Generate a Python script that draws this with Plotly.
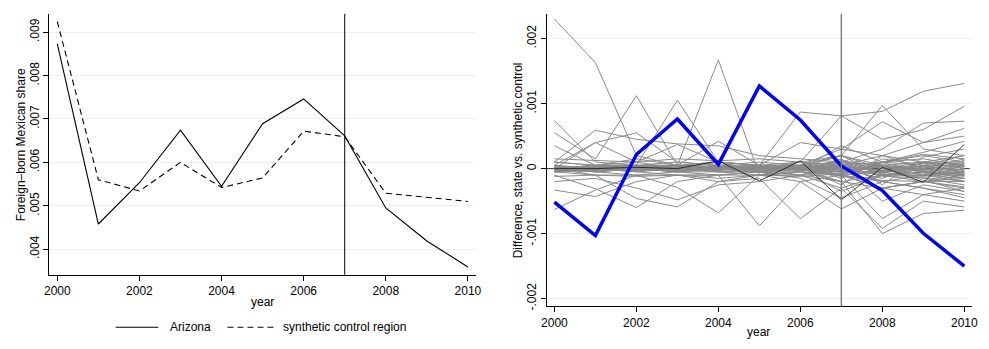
import plotly.graph_objects as go

# ---------------- data ----------------
years = list(range(2000, 2011))
treat_year = 2007

arizona = [0.00873, 0.00458, 0.00553, 0.00674, 0.00545, 0.00689, 0.00746, 0.00661, 0.00495, 0.00419, 0.00359]
synthetic = [0.00924, 0.00560, 0.00534, 0.00600, 0.00542, 0.00564, 0.00672, 0.00659, 0.00529, 0.00520, 0.00510]
legend_labels = ["Arizona", "synthetic control region"]

# gap (state minus synthetic control), in units of 0.0001
arizona_gap = [-5.15, -10.3, 2.17, 7.62, 0.65, 12.7, 7.47, 0.4, -3.38, -9.95, -15.0]

placebo_gaps = [
    [23.0, 16.3, 2.0, 0.5, 0.3, 0.5, 0.2, -1.0, -2.0, -1.0, -0.5],
    [7.4, 1.0, 0.5, 1.0, 0.5, 0.0, 1.0, 2.0, 0.5, 1.0, 0.0],
    [5.5, 1.5, 11.2, 0.5, 0.3, 0.5, 0.0, -1.0, 1.0, 2.0, 1.0],
    [3.5, 0.5, 0.5, 10.5, 1.0, -0.5, 0.5, 2.0, -1.0, 0.0, 1.5],
    [1.0, 0.5, 0.5, 0.5, 16.7, -1.0, 0.5, 0.0, 0.5, -1.0, -2.0],
    [1.0, 5.9, 4.5, 3.8, 3.5, 2.0, 1.5, 1.0, 0.5, 0.0, -1.0],
    [0.5, 4.0, 1.0, 0.0, 1.0, 0.5, 0.0, -2.0, -3.0, -2.0, -1.0],
    [0.0, 4.0, 5.5, 1.0, 0.5, 1.0, 0.5, 0.0, 1.0, 0.5, 0.5],
    [1.0, 0.5, 1.0, 3.7, 1.0, 0.5, 0.5, 1.0, 0.0, 1.0, 2.0],
    [0.0, 0.5, 1.5, 0.5, 4.2, 0.5, 0.5, 0.0, -1.0, -1.0, -1.5],
    [0.0, 0.5, 0.0, 0.5, 1.0, 0.5, 8.7, 8.1, 8.8, 11.9, 13.1],
    [0.0, 0.0, 0.5, 0.5, 0.0, 0.5, 1.0, 8.1, 4.5, 6.0, 9.6],
    [0.0, -0.5, 0.0, 0.5, 0.0, 0.0, 0.5, 2.0, 9.7, 3.0, 2.0],
    [0.5, 0.0, 0.0, 0.0, 0.5, 0.0, 0.5, 3.0, 7.2, 4.0, 5.0],
    [0.0, 0.5, 0.0, -0.5, 0.0, 0.5, 0.0, 1.0, 3.0, 7.0, 7.3],
    [0.0, 0.0, 0.5, 0.0, 0.0, -0.5, 0.0, 0.5, 2.0, 4.0, 6.2],
    [0.0, -0.5, 0.0, 0.0, 0.5, 0.0, 0.5, -1.0, 1.0, 2.5, 4.2],
    [0.5, 0.0, 0.0, 0.5, 1.0, 0.5, 4.0, 3.0, 2.0, 1.0, 0.5],
    [-6.3, -3.3, -1.0, -0.5, 0.0, -0.5, 0.0, -1.0, -0.5, 0.0, -1.0],
    [-3.3, -4.3, -2.0, -1.0, -1.0, -0.5, -1.0, 0.0, -1.0, -2.0, -3.0],
    [-1.0, -3.1, -6.0, -2.0, -1.0, -0.5, 0.0, 0.5, -2.0, -3.0, -4.0],
    [-0.5, -1.0, -4.6, -5.9, -2.0, -1.0, -0.5, -1.0, -3.0, -2.0, -2.0],
    [0.0, -1.0, -1.0, -2.9, -6.8, -1.0, -0.5, -2.0, -1.0, -1.0, 0.0],
    [0.0, -0.5, -1.0, -1.0, -1.0, -8.8, -2.0, -1.0, -3.0, -4.0, -5.0],
    [-0.5, 0.0, -0.5, -1.0, -2.0, -1.5, -7.7, -3.0, -1.0, -0.5, -2.0],
    [0.0, -0.5, 0.0, -0.5, -1.0, -1.0, -2.0, -6.2, -3.0, -2.0, -1.5],
    [0.0, 0.0, -0.5, 0.0, -0.5, -1.0, -1.0, -2.0, -10.0, -6.9, -6.4],
    [0.0, 0.0, 0.0, -0.5, -0.5, 0.0, -1.0, -3.0, -9.2, -5.0, -5.9],
    [0.0, 0.5, 0.0, 0.0, -0.5, -0.5, -0.5, -1.0, -7.7, -4.0, -3.0],
    [0.0, 0.0, 0.5, -0.5, 0.0, -0.5, -1.5, -4.5, -2.0, -3.0, -4.5],
    [-2.0, -1.5, -3.0, -4.8, -2.5, -2.0, -1.0, 0.5, -5.0, -2.5, -3.5],
    [-0.3, -0.2, 0.0, 0.2, 0.1, 0.3, 0.2, 0.5, 1.0, 1.5, 0.5],
    [0.2, 0.3, 0.2, 0.0, -0.2, 0.2, -0.3, -0.5, 0.5, -1.0, -1.0],
    [-0.5, -0.3, -0.2, -0.3, 0.0, -0.2, 0.0, 1.0, -0.5, 0.5, 2.0],
    [0.1, 0.0, -0.3, 0.3, 0.2, 0.0, 0.4, -1.5, 1.5, 0.5, -0.5],
    [-0.2, 0.4, 0.1, -0.1, 0.3, 0.1, -0.2, 0.0, -1.5, 1.0, 1.0],
    [0.4, -0.1, 0.3, 0.1, -0.3, 0.4, 0.1, 2.0, 0.0, -1.5, -2.5],
    [-0.4, 0.1, -0.1, -0.4, 0.2, -0.3, 0.3, -2.5, 2.0, 0.0, 0.8],
    [0.3, 0.2, -0.4, 0.2, -0.1, -0.1, -0.4, 1.5, -2.5, 1.8, 3.0],
    [0.0, -0.3, 0.4, -0.2, 0.4, 0.2, 0.5, -0.5, 0.3, -1.8, -3.5],
    [-0.1, 0.1, 0.2, 0.4, -0.4, -0.4, -0.1, 3.5, 1.0, 2.2, 1.5],
    [0.2, -0.4, -0.2, 0.3, 0.1, 0.3, -0.2, -3.5, -1.0, -0.5, -1.2],
    [1.5, 1.2, 1.0, 1.5, 1.2, 1.5, 1.0, 0.5, -0.3, 0.8, 0.2],
    [-1.2, -1.0, -1.2, -1.0, -1.5, -1.0, -1.2, -0.8, 0.5, -0.5, -0.8],
    [0.1, -0.1, 0.0, -0.1, 0.1, 0.0, -0.1, 0.3, -0.3, 0.4, -0.2],
    [-0.1, 0.1, -0.1, 0.1, 0.0, 0.1, 0.1, -0.3, 0.6, -0.6, 0.3],
    [0.0, 0.2, 0.1, 0.0, -0.1, -0.1, 0.2, 0.8, -0.8, 0.9, 0.7],
    [0.2, 0.0, -0.1, -0.2, 0.2, 0.2, 0.0, -0.9, 0.9, -0.4, -1.5],
    [-0.2, -0.1, 0.2, 0.1, -0.2, 0.0, -0.1, 0.2, -0.2, -0.9, 1.3],
    [0.0, 0.0, 0.0, 0.0, 0.0, 0.1, -0.1, 0.0, 0.2, 0.3, -0.3],
    [-0.3, 0.2, 0.3, -0.2, 0.3, -0.2, 0.3, 1.2, 0.4, -0.2, -0.7],
    [0.05, 0.0, -0.05, 0.05, 0.0, -0.05, 0.05, -0.6, -0.4, -0.7, -0.9],
    [-0.05, 0.05, 0.0, -0.05, 0.05, 0.0, 0.0, 0.6, -0.6, -1.2, -0.4],
    [0.0, -0.05, 0.05, 0.0, -0.05, 0.05, -0.05, -1.2, -1.8, -2.0, -2.8],
    [0.1, 0.05, 0.0, 0.1, 0.05, 0.1, 0.0, 0.4, -1.2, -1.4, -1.9],
    [-0.1, -0.05, -0.1, 0.0, -0.1, -0.05, -0.1, -0.2, -0.6, 0.2, -0.6],
    [0.0, 0.1, 0.05, -0.1, 0.0, 0.0, 0.1, 0.1, 0.3, -0.3, 0.4],
]
dark_placebo_gap = [0.0, 0.0, 0.2, 0.0, 1.2, -1.9, 1.2, -4.8, 0.2, -2.1, 3.7]

gap_unit = 1e-4

left_yticks = [0.004, 0.005, 0.006, 0.007, 0.008, 0.009]
left_yticktext = [".004", ".005", ".006", ".007", ".008", ".009"]
right_yticks = [-0.002, -0.001, 0.0, 0.001, 0.002]
right_yticktext = ["-.002", "-.001", "0", ".001", ".002"]
xticks = [2000, 2002, 2004, 2006, 2008, 2010]

# ---------------- figure ----------------
W, H = 989, 349
FONT = "Liberation Sans, Arial, Helvetica, sans-serif"
GRID = "#e8f0f1"
DASH = "6px,4px"


def px_x(p):
    return p / W


def px_y(p):
    return 1 - p / H


fig = go.Figure()

fig.add_trace(go.Scatter(x=years, y=arizona, mode="lines", name=legend_labels[0],
                         line=dict(color="black", width=1.1), showlegend=False,
                         xaxis="x", yaxis="y"))
fig.add_trace(go.Scatter(x=years, y=synthetic, mode="lines", name=legend_labels[1],
                         line=dict(color="black", width=1.1, dash=DASH), showlegend=False,
                         xaxis="x", yaxis="y"))

for row in placebo_gaps:
    fig.add_trace(go.Scatter(x=years, y=[v * gap_unit for v in row], mode="lines",
                             line=dict(color="#8a8a8a", width=1), showlegend=False,
                             hoverinfo="skip", xaxis="x2", yaxis="y2"))
fig.add_trace(go.Scatter(x=years, y=[v * gap_unit for v in dark_placebo_gap], mode="lines",
                         line=dict(color="#222222", width=0.9), showlegend=False,
                         hoverinfo="skip", xaxis="x2", yaxis="y2"))
fig.add_trace(go.Scatter(x=years, y=[v * gap_unit for v in arizona_gap], mode="lines",
                         line=dict(color="#0000ff", width=3.5), showlegend=False,
                         xaxis="x2", yaxis="y2"))

xr = [1999.81, 2010.19]
axis_common = dict(showline=True, linecolor="black", linewidth=1, ticks="outside",
                   ticklen=5, tickcolor="black", tickwidth=1, mirror=False, zeroline=False,
                   tickfont=dict(family=FONT, size=12, color="black"))

fig.update_layout(
    width=W, height=H,
    margin=dict(l=0, r=0, t=0, b=0),
    paper_bgcolor="white", plot_bgcolor="white",
    font=dict(family=FONT, size=12, color="black"),
    xaxis=dict(domain=[px_x(45), px_x(476)], range=xr, tickvals=xticks, showgrid=False,
               anchor="y", **axis_common),
    yaxis=dict(domain=[px_y(278), px_y(14)], range=[0.00341, 0.00942], tickvals=left_yticks,
               ticktext=left_yticktext, tickangle=-90, showgrid=True, gridcolor=GRID,
               gridwidth=1, anchor="x", **axis_common),
    xaxis2=dict(domain=[px_x(547.7), px_x(978)], range=xr, tickvals=xticks, showgrid=False,
                anchor="y2", **axis_common),
    yaxis2=dict(domain=[px_y(310), px_y(14)], range=[-0.00212, 0.00238], tickvals=right_yticks,
                ticktext=right_yticktext, tickangle=-90, showgrid=True, gridcolor=GRID,
                gridwidth=1, anchor="x2", **axis_common),
    showlegend=False,
)

fig.add_shape(type="line", xref="x", yref="y domain", x0=treat_year, x1=treat_year, y0=0, y1=1,
              line=dict(color="black", width=1))
fig.add_shape(type="line", xref="x2", yref="y2", x0=xr[0], x1=xr[1], y0=0, y1=0,
              line=dict(color="#333333", width=1, dash="dash"), layer="between")
fig.add_shape(type="line", xref="x2", yref="y2 domain", x0=treat_year, x1=treat_year, y0=0, y1=1,
              line=dict(color="#7a7a7a", width=1.4))

# legend (drawn manually, Stata style)
ly = px_y(331)
fig.add_shape(type="line", xref="paper", yref="paper", x0=px_x(112), x1=px_x(155), y0=ly, y1=ly,
              line=dict(color="black", width=1.1))
fig.add_annotation(text=legend_labels[0], x=px_x(165), y=ly, xref="paper", yref="paper",
                   xanchor="left", yanchor="middle", showarrow=False, font=dict(size=12))
fig.add_shape(type="line", xref="paper", yref="paper", x0=px_x(225), x1=px_x(272), y0=ly, y1=ly,
              line=dict(color="black", width=1.1, dash=DASH))
fig.add_annotation(text=legend_labels[1], x=px_x(279), y=ly, xref="paper", yref="paper",
                   xanchor="left", yanchor="middle", showarrow=False, font=dict(size=12))

# axis titles
fig.add_annotation(text="Foreign–born Mexican share", x=px_x(17), y=px_y(146), xref="paper",
                   yref="paper", xanchor="center", yanchor="middle", textangle=-90,
                   showarrow=False, font=dict(size=12))
fig.add_annotation(text="year", x=px_x(260), y=px_y(305), xref="paper", yref="paper",
                   xanchor="center", yanchor="middle", showarrow=False, font=dict(size=12))
fig.add_annotation(text="Difference, state vs. synthetic control", x=px_x(519), y=px_y(162),
                   xref="paper", yref="paper", xanchor="center", yanchor="middle",
                   textangle=-90, showarrow=False, font=dict(size=12))
fig.add_annotation(text="year", x=px_x(762), y=px_y(336), xref="paper", yref="paper",
                   xanchor="center", yanchor="middle", showarrow=False, font=dict(size=12))

fig.write_html("out.html")
